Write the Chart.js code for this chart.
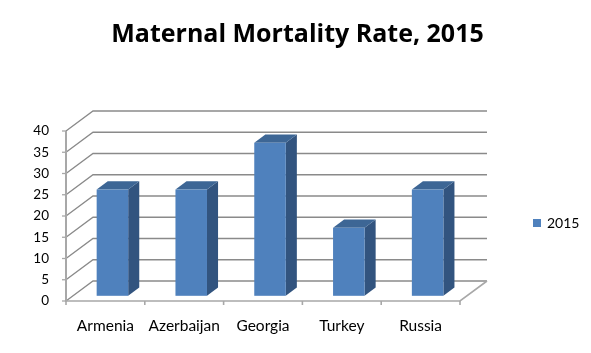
<!DOCTYPE html>
<html><head><meta charset="utf-8">
<script src="https://cdn.jsdelivr.net/npm/chart.js@4.4.0/dist/chart.umd.min.js"></script>
<style>html,body{margin:0;padding:0;background:#fff;}#wrap{width:591px;height:353px;position:relative;}</style>
</head><body><div id="wrap"><canvas id="c"></canvas></div>
<script>
const categories = ['Armenia', 'Azerbaijan', 'Georgia', 'Turkey', 'Russia'];
const seriesLabel = '2015';
const values2015 = [25, 25, 36, 16, 25];
const yTickValues = [0, 5, 10, 15, 20, 25, 30, 35, 40];
const chartTitle = 'Maternal Mortality Rate, 2015';

const FONT = 'Lato, "Open Sans", sans-serif';
const TITLE_FONT = '"Open Sans", Lato, sans-serif';
const DEPTH = { dx: 27, dy: -20 };
const BAR_FRONT = 0.26, BAR_BACK = 0.67;
const COLORS = { front: '#4f81bd', side: '#32547f', top: '#3d6695', grid: '#8a8a8a', axis: '#a8a8a8' };

const box3d = {
  id: 'box3d',
  beforeDatasetsDraw(chart) {
    const ctx = chart.ctx, area = chart.chartArea;
    const ys = chart.scales.y, xs = chart.scales.x;
    const y0 = ys.getPixelForValue(0);
    ctx.save();
    ctx.lineCap = 'butt';
    ctx.strokeStyle = COLORS.grid; ctx.lineWidth = 1.3;
    yTickValues.forEach(v => {
      const y = ys.getPixelForValue(v);
      ctx.beginPath();
      ctx.moveTo(area.left, y);
      ctx.lineTo(area.left + DEPTH.dx, y + DEPTH.dy);
      ctx.lineTo(area.right + DEPTH.dx, y + DEPTH.dy);
      ctx.stroke();
    });
    ctx.strokeStyle = COLORS.axis; ctx.lineWidth = 1.6;
    ctx.beginPath();
    ctx.moveTo(area.left, y0);
    ctx.lineTo(area.right, y0);
    ctx.lineTo(area.right + DEPTH.dx, y0 + DEPTH.dy);
    ctx.stroke();
    const n = categories.length;
    const cw = (area.right - area.left) / n;
    for (let i = 0; i <= n; i++) {
      const x = (i < n ? xs.getPixelForValue(i) - cw / 2 : xs.getPixelForValue(n - 1) + cw / 2);
      ctx.beginPath(); ctx.moveTo(x, y0); ctx.lineTo(x, y0 + 4); ctx.stroke();
    }
    ctx.lineWidth = 2;
    ctx.beginPath(); ctx.moveTo(area.left, ys.getPixelForValue(40)); ctx.lineTo(area.left, y0 + 1); ctx.stroke();
    ctx.lineWidth = 1.3;
    yTickValues.forEach(v => {
      const y = ys.getPixelForValue(v);
      ctx.beginPath(); ctx.moveTo(area.left - 4, y); ctx.lineTo(area.left, y); ctx.stroke();
    });
    const fdx = DEPTH.dx * BAR_FRONT, fdy = DEPTH.dy * BAR_FRONT;
    const bdx = DEPTH.dx * (BAR_BACK - BAR_FRONT), bdy = DEPTH.dy * (BAR_BACK - BAR_FRONT);
    chart.getDatasetMeta(0).data.forEach(el => {
      const p = el.getProps(['x', 'y', 'base', 'width'], true);
      const l = p.x - p.width / 2 + fdx, r = p.x + p.width / 2 + fdx;
      const t = p.y + fdy, b = p.base + fdy;
      ctx.fillStyle = COLORS.side;
      ctx.beginPath();
      ctx.moveTo(r, t); ctx.lineTo(r + bdx, t + bdy); ctx.lineTo(r + bdx, b + bdy); ctx.lineTo(r, b);
      ctx.closePath(); ctx.fill();
      ctx.fillStyle = COLORS.top;
      ctx.beginPath();
      ctx.moveTo(l, t); ctx.lineTo(l + bdx, t + bdy); ctx.lineTo(r + bdx, t + bdy); ctx.lineTo(r, t);
      ctx.closePath(); ctx.fill();
      ctx.fillStyle = COLORS.front;
      ctx.fillRect(l, t, r - l, b - t);
    });
    ctx.restore();
    return false;
  },
  afterDraw(chart) {
    const ctx = chart.ctx, area = chart.chartArea;
    const lx = area.right + 73, ly = (area.top + area.bottom) / 2 + 7;
    ctx.save();
    ctx.fillStyle = COLORS.front;
    ctx.fillRect(lx, ly - 4, 8, 8);
    ctx.fillStyle = '#000';
    ctx.font = '14px ' + FONT;
    ctx.textBaseline = 'middle';
    ctx.textAlign = 'left';
    ctx.fillText(seriesLabel, lx + 14, ly);
    ctx.restore();
  }
};

new Chart(document.getElementById('c'), {
  type: 'bar',
  data: {
    labels: categories,
    datasets: [{ label: seriesLabel, data: values2015, backgroundColor: COLORS.front, barPercentage: 0.4, categoryPercentage: 1 }]
  },
  options: {
    responsive: true,
    maintainAspectRatio: false,
    animation: false,
    layout: { padding: { left: 4, top: 0, right: 0, bottom: 0 } },
    plugins: {
      legend: { display: false },
      tooltip: { enabled: false },
      title: {
        display: true, text: chartTitle, color: '#000',
        font: { family: TITLE_FONT, size: 25, weight: 'bold', lineHeight: 1.2 },
        padding: { top: 20, bottom: 81 }
      }
    },
    scales: {
      x: {
        type: 'category',
        grid: { display: false, drawTicks: false },
        border: { display: false },
        ticks: { color: '#000', font: { family: FONT, size: 15.5 }, padding: 16, maxRotation: 0 },
        afterFit(s) { s.height = 52; }
      },
      y: {
        position: 'left', min: 0, max: 40,
        grid: { display: false, drawTicks: false },
        border: { display: false },
        ticks: { stepSize: 5, color: '#000', font: { family: FONT, size: 13.5 }, padding: 17 },
        afterFit(s) { s.width = 62; }
      },
      yRight: {
        position: 'right', display: true,
        grid: { display: false, drawTicks: false },
        border: { display: false },
        ticks: { display: false },
        afterFit(s) { s.width = 131; }
      }
    }
  },
  plugins: [box3d]
});
</script></body></html>
